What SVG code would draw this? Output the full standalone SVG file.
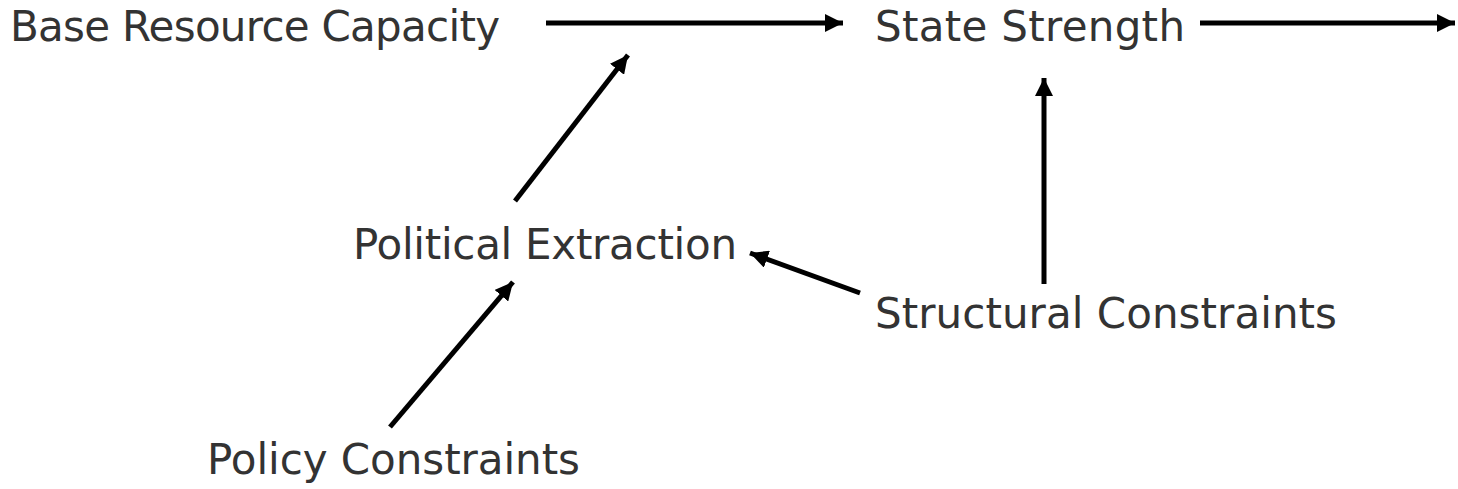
<svg xmlns="http://www.w3.org/2000/svg" width="1458" height="489" viewBox="0 0 1458 489">
<style>
.lbl{font-family:"DejaVu Sans",Verdana,sans-serif;font-size:42px;fill:#333333}
.arr{stroke:#000;stroke-width:5;fill:none;marker-end:url(#ah)}
</style>
<defs>
<marker id="ah" markerUnits="userSpaceOnUse" markerWidth="20" markerHeight="18" refX="18" refY="9" orient="auto">
<path d="M0,0 L18,9 L0,18 Z" fill="#000"/>
</marker>
</defs>
<rect width="1458" height="489" fill="#fff"/>
<g id="connectors">
<line class="arr" x1="546" y1="23" x2="843" y2="23"/>
<line class="arr" x1="1200" y1="23" x2="1455" y2="23"/>
<line class="arr" x1="1044" y1="284" x2="1044" y2="78"/>
<line class="arr" x1="515" y1="201" x2="628" y2="55"/>
<line class="arr" x1="390" y1="427" x2="513" y2="282"/>
<line class="arr" x1="860" y1="293" x2="750" y2="253"/>
</g>
<g id="base"><text class="lbl" x="10" y="41" textLength="490" lengthAdjust="spacing">Base Resource Capacity</text></g>
<g id="state"><text class="lbl" x="875" y="41" textLength="310" lengthAdjust="spacing">State Strength</text></g>
<g id="political"><text class="lbl" x="353" y="259" textLength="384" lengthAdjust="spacing">Political Extraction</text></g>
<g id="structural"><text class="lbl" x="875" y="328" textLength="462" lengthAdjust="spacing">Structural Constraints</text></g>
<g id="policy"><text class="lbl" x="207" y="474" textLength="373" lengthAdjust="spacing">Policy Constraints</text></g>
</svg>
